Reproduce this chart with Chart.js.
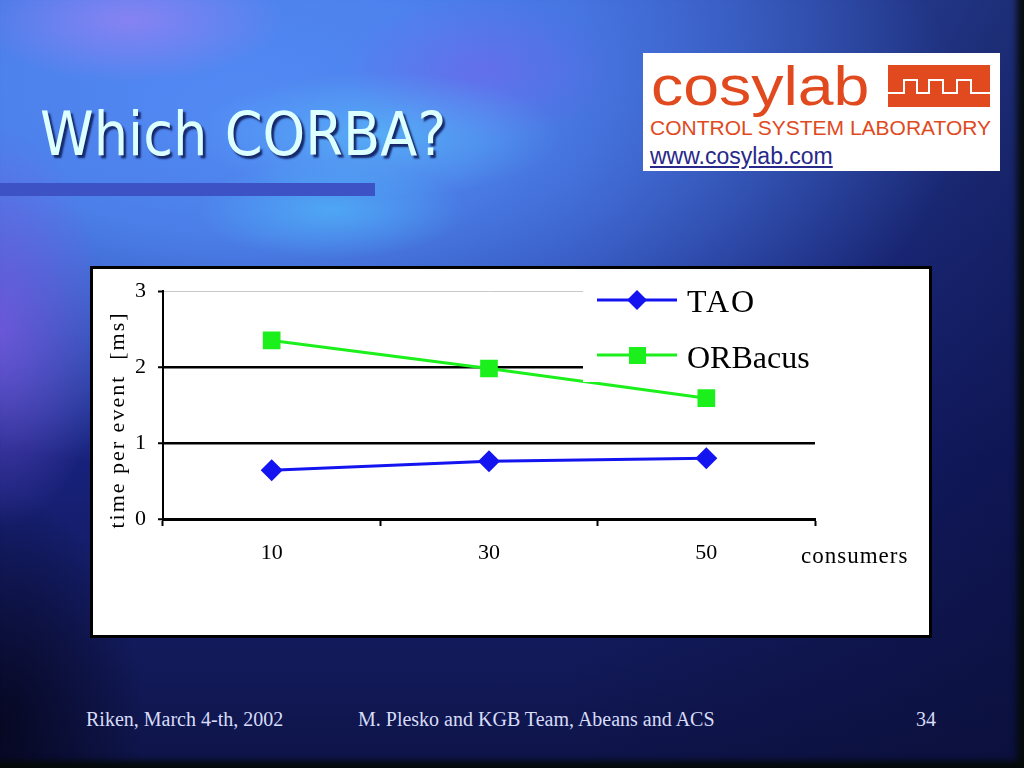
<!DOCTYPE html>
<html>
<head>
<meta charset="utf-8">
<script src="https://cdn.jsdelivr.net/npm/chart.js@4/dist/chart.umd.min.js"></script>
<style>
  html, body { margin: 0; padding: 0; }
  body {
    width: 1024px; height: 768px; overflow: hidden; position: relative;
    background:
      radial-gradient(ellipse 150px 55px at 330px 210px, rgba(80,205,255,0.5), rgba(80,205,255,0) 90%),
      radial-gradient(ellipse 200px 70px at 380px 135px, rgba(95,210,255,0.5), rgba(95,210,255,0) 90%),
      radial-gradient(ellipse 170px 70px at 130px 20px, rgba(180,130,245,0.55), rgba(180,130,245,0) 90%),
      radial-gradient(ellipse 150px 80px at 480px 70px, rgba(125,90,235,0.45), rgba(125,90,235,0) 90%),
      radial-gradient(ellipse 120px 220px at 0px 330px, rgba(130,90,230,0.7), rgba(130,90,230,0) 90%),
      radial-gradient(ellipse 720px 360px at 240px 110px, rgba(82,138,244,1) 0%, rgba(82,138,244,0.85) 35%, rgba(82,138,244,0) 100%),
      radial-gradient(ellipse 170px 280px at 0px 730px, rgba(6,6,30,0.9), rgba(6,6,30,0) 85%),
      linear-gradient(90deg, rgba(0,0,0,0) 55%, rgba(8,12,50,0.55) 100%),
      linear-gradient(180deg, #3656c8 0%, #22349a 35%, #17217a 60%, #121a5a 85%, #0e1448 100%);
    box-shadow: inset -7px -7px 6px rgba(4,10,4,0.9);
  }
  .title {
    position: absolute; left: 40px; top: 96px;
    font-family: "DejaVu Sans", sans-serif; font-size: 61px; line-height: 76px;
    color: #dcffff; text-shadow: 3px 3px 2px #16286a;
    transform-origin: left top; transform: scaleX(0.89); white-space: nowrap;
  }
  .bar { position: absolute; left: 0; top: 183px; width: 375px; height: 13px; background: #3d52c4; }
  .logo { position: absolute; left: 643px; top: 53px; width: 357px; height: 118px; background: #fff; }
  .logo .big { position: absolute; left: 8px; top: 1px; font-family: "Liberation Sans", Arial, sans-serif;
    font-size: 56px; line-height: 64px; color: #e04a1e; transform-origin: left top; transform: scaleX(1.15); }
  .logo .sub { position: absolute; left: 7px; top: 63px; font-family: "Liberation Sans", Arial, sans-serif;
    font-size: 21px; line-height: 24px; color: #e04a1e; white-space: nowrap; }
  .logo .url { position: absolute; left: 7px; top: 90px; font-family: "Liberation Sans", Arial, sans-serif;
    font-size: 23px; line-height: 26px; color: #28288a; text-decoration: underline; white-space: nowrap; }
  .logo svg { position: absolute; left: 245px; top: 12px; }
  .box { position: absolute; left: 90px; top: 266px; width: 836px; height: 366px; background: #fff; border: 3px solid #000; }
  .foot { position: absolute; top: 708px; font-family: "Liberation Serif", serif; font-size: 20px; color: #d8dcf8; white-space: nowrap; }
</style>
</head>
<body>
<div class="title">Which CORBA?</div>
<div class="bar"></div>
<div class="logo">
  <div class="big">cosylab</div>
  <svg width="102" height="42" viewBox="0 0 102 42">
    <rect x="0" y="0" width="102" height="42" fill="#e04a1e"/>
    <polyline points="0,28 16,28 16,15 29,15 29,28 41,28 41,15 55,15 55,28 69,28 69,15 83,15 83,28 102,28"
      fill="none" stroke="#fff" stroke-width="2"/>
  </svg>
  <div class="sub">CONTROL SYSTEM LABORATORY</div>
  <div class="url">www.cosylab.com</div>
</div>
<div class="box"><canvas id="myChart" width="836" height="366"></canvas></div>
<div class="foot" style="left:86px">Riken, March 4-th, 2002</div>
<div class="foot" style="left:358px">M. Plesko and KGB Team, Abeans and ACS</div>
<div class="foot" style="left:916px">34</div>

<script>
'use strict';
// chart values
const consumers = ['10', '30', '50'];
const taoTimes = [0.64, 0.76, 0.80];
const orbacusTimes = [2.35, 1.98, 1.59];
const yTicks = [0, 1, 2, 3];

const serif = 'Liberation Serif, Times New Roman, serif';
const blue = '#1414f0';
const green = '#1cf01c';

function diamond(ctx, x, y, r){
  ctx.beginPath();
  ctx.moveTo(x, y - r);
  ctx.lineTo(x + r, y);
  ctx.lineTo(x, y + r);
  ctx.lineTo(x - r, y);
  ctx.closePath();
  ctx.fill();
}

// white legend box sitting on top of the plot, plus axis titles
const slideLegend = {
  id: 'slideLegend',
  afterDatasetsDraw(chart){
    const ctx = chart.ctx;
    ctx.save();
    ctx.fillStyle = '#fff';
    ctx.fillRect(490, 11, 346, 102);

    ctx.lineWidth = 3;
    ctx.strokeStyle = blue;
    ctx.beginPath(); ctx.moveTo(504, 31); ctx.lineTo(584, 31); ctx.stroke();
    ctx.fillStyle = blue;
    diamond(ctx, 544, 31, 10);

    ctx.strokeStyle = green;
    ctx.beginPath(); ctx.moveTo(504, 86); ctx.lineTo(584, 86); ctx.stroke();
    ctx.fillStyle = green;
    ctx.fillRect(536, 78, 17, 17);

    ctx.fillStyle = '#000';
    ctx.font = '32px ' + serif;
    ctx.textBaseline = 'alphabetic';
    ctx.textAlign = 'left';
    ctx.letterSpacing = '2px';
    ctx.fillText('TAO', 594, 43);
    ctx.letterSpacing = '0px';
    ctx.fillText('ORBacus', 594, 99);

    // axis titles
    ctx.font = '23px ' + serif;
    ctx.letterSpacing = '1px';
    ctx.fillText('consumers', 708, 294);
    ctx.translate(31, 151);
    ctx.rotate(-Math.PI / 2);
    ctx.textAlign = 'center';
    ctx.font = '22px ' + serif;
    ctx.letterSpacing = '2px';
    ctx.fillText('time per event  [ms]', 0, 0);
    ctx.restore();
  }
};

const data = {
  labels: consumers,
  datasets: [{
    label: 'TAO',
    data: taoTimes,
    borderColor: blue,
    backgroundColor: blue,
    borderWidth: 3,
    pointStyle: 'rectRot',
    pointRadius: 11,
    pointBorderWidth: 0,
    tension: 0
  },
  {
    label: 'ORBacus',
    data: orbacusTimes,
    borderColor: green,
    backgroundColor: green,
    borderWidth: 3,
    pointStyle: 'rect',
    pointRadius: 12.5,
    pointBorderWidth: 0,
    tension: 0
  }]
};

const config = {
  type: 'line',
  data: data,
  plugins: [slideLegend],
  options: {
    responsive: false,
    devicePixelRatio: 1,
    animation: false,
    layout: { padding: { top: 22, right: 114, left: 0, bottom: 0 } },
    plugins: { legend: { display: false }, title: { display: false }, tooltip: { enabled: false } },
    scales: {
      x: {
        offset: true,
        grid: { offset: true, drawOnChartArea: false, drawTicks: true, tickLength: 7, tickColor: '#000', tickWidth: 2 },
        border: { color: '#000', width: 3 },
        ticks: { color: '#000', font: { family: serif, size: 22 }, padding: 14 },
        afterFit(scale){ scale.height = 116; scale.paddingLeft = 0; scale.paddingRight = 0; }
      },
      y: {
        min: 0,
        max: 3,
        afterBuildTicks(scale){ scale.ticks = yTicks.map(v => ({ value: v })); },
        grid: {
          color: c => c.tick.value === 3 ? '#c8c8c8' : (c.tick.value === 0 ? 'rgba(0,0,0,0)' : '#000'),
          lineWidth: c => c.tick.value === 3 ? 1 : 2.5,
          tickColor: '#000', tickLength: 5, tickWidth: 2
        },
        border: { color: '#000', width: 2 },
        ticks: { color: '#000', font: { family: serif, size: 22 }, padding: 12 },
        afterFit(scale){ scale.width = 70; scale.paddingTop = 0; scale.paddingBottom = 0; }
      }
    }
  }
};

const chart = document.getElementById('myChart');
const myChart = new Chart(chart, config);
</script>
</body>
</html>
